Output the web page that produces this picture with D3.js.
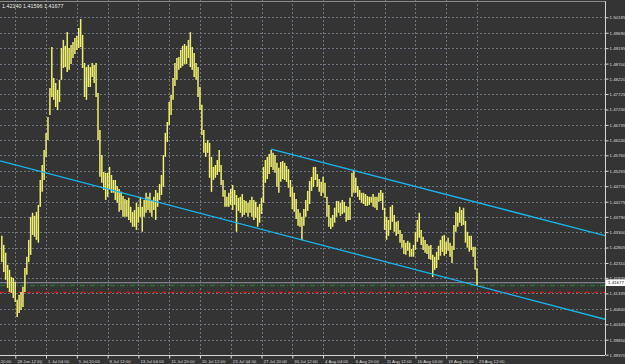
<!DOCTYPE html>
<html>
<head>
<meta charset="utf-8">
<script src="https://cdn.jsdelivr.net/npm/d3@7"></script>
<style>
  html, body { margin: 0; padding: 0; background: #343434; overflow: hidden; }
  svg { display: block; }
  text { font-family: "Liberation Sans", Arial, sans-serif; }
</style>
</head>
<body>
<div id="chart"></div>
<script>
const highs = [
  1.4318, 1.4289, 1.4264, 1.4225, 1.4209, 1.4186, 1.4183, 1.4170, 1.4113, 1.4129,
  1.4138, 1.4155, 1.4215, 1.4251, 1.4305, 1.4379, 1.4392, 1.4382, 1.4395, 1.4417,
  1.4497, 1.4545, 1.4593, 1.4648, 1.4699, 1.4792, 1.4923, 1.4824, 1.4808, 1.4786,
  1.4818, 1.4920, 1.4946, 1.4927, 1.4971, 1.4920, 1.4930, 1.4939, 1.4952, 1.4959,
  1.4984, 1.5013, 1.4962, 1.4872, 1.4859, 1.4866, 1.4859, 1.4872, 1.4866, 1.4872,
  1.4776, 1.4657, 1.4577, 1.4523, 1.4520, 1.4520, 1.4539, 1.4513, 1.4497, 1.4497,
  1.4478, 1.4468, 1.4459, 1.4446, 1.4436, 1.4433, 1.4440, 1.4411, 1.4395, 1.4401,
  1.4424, 1.4411, 1.4443, 1.4411, 1.4433, 1.4456, 1.4443, 1.4456, 1.4433, 1.4443,
  1.4465, 1.4456, 1.4484, 1.4513, 1.4577, 1.4648, 1.4683, 1.4747, 1.4770, 1.4824,
  1.4872, 1.4888, 1.4891, 1.4914, 1.4927, 1.4933, 1.4927, 1.4946, 1.4971, 1.4923,
  1.4904, 1.4872, 1.4859, 1.4795, 1.4738, 1.4657, 1.4616, 1.4625, 1.4616, 1.4571,
  1.4539, 1.4545, 1.4561, 1.4593, 1.4545, 1.4497, 1.4465, 1.4443, 1.4456, 1.4468,
  1.4481, 1.4465, 1.4449, 1.4440, 1.4443, 1.4452, 1.4433, 1.4430, 1.4424, 1.4433,
  1.4443, 1.4433, 1.4427, 1.4411, 1.4420, 1.4440, 1.4539, 1.4561, 1.4571, 1.4580,
  1.4593, 1.4584, 1.4577, 1.4552, 1.4536, 1.4555, 1.4558, 1.4552, 1.4542, 1.4532,
  1.4497, 1.4475, 1.4456, 1.4436, 1.4404, 1.4392, 1.4379, 1.4404, 1.4433, 1.4462,
  1.4494, 1.4507, 1.4539, 1.4539, 1.4516, 1.4500, 1.4491, 1.4507, 1.4488, 1.4443,
  1.4417, 1.4376, 1.4385, 1.4408, 1.4430, 1.4430, 1.4424, 1.4433, 1.4427, 1.4414,
  1.4411, 1.4440, 1.4520, 1.4526, 1.4504, 1.4478, 1.4465, 1.4456, 1.4456, 1.4452,
  1.4446, 1.4443, 1.4443, 1.4452, 1.4443, 1.4443, 1.4456, 1.4465, 1.4456, 1.4408,
  1.4379, 1.4369, 1.4411, 1.4417, 1.4385, 1.4363, 1.4366, 1.4337, 1.4324, 1.4305,
  1.4296, 1.4302, 1.4296, 1.4276, 1.4289, 1.4331, 1.4369, 1.4392, 1.4337, 1.4315,
  1.4305, 1.4292, 1.4286, 1.4289, 1.4257, 1.4251, 1.4267, 1.4286, 1.4305, 1.4318,
  1.4321, 1.4299, 1.4312, 1.4296, 1.4286, 1.4353, 1.4395, 1.4392, 1.4411, 1.4401,
  1.4408, 1.4366, 1.4331, 1.4318, 1.4318, 1.4283, 1.4283, 1.42140
];
const lows = [
  1.4234, 1.4202, 1.4177, 1.4151, 1.4138, 1.4135, 1.4119, 1.4106, 1.4058, 1.4071,
  1.4080, 1.4090, 1.4138, 1.4193, 1.4234, 1.4257, 1.4321, 1.4315, 1.4305, 1.4296,
  1.4411, 1.4459, 1.4497, 1.4571, 1.4625, 1.4705, 1.4763, 1.4754, 1.4731, 1.4721,
  1.4747, 1.4818, 1.4856, 1.4859, 1.4843, 1.4850, 1.4869, 1.4888, 1.4901, 1.4914,
  1.4920, 1.4923, 1.4856, 1.4763, 1.4754, 1.4795, 1.4795, 1.4827, 1.4808, 1.4763,
  1.4625, 1.4507, 1.4488, 1.4465, 1.4433, 1.4443, 1.4465, 1.4456, 1.4456, 1.4433,
  1.4424, 1.4395, 1.4401, 1.4379, 1.4379, 1.4379, 1.4369, 1.4360, 1.4347, 1.4347,
  1.4337, 1.4360, 1.4379, 1.4331, 1.4379, 1.4392, 1.4401, 1.4392, 1.4379, 1.4401,
  1.4369, 1.4411, 1.4433, 1.4449, 1.4475, 1.4571, 1.4619, 1.4673, 1.4705, 1.4754,
  1.4798, 1.4818, 1.4850, 1.4856, 1.4862, 1.4869, 1.4869, 1.4888, 1.4859, 1.4850,
  1.4827, 1.4818, 1.4763, 1.4721, 1.4641, 1.4584, 1.4571, 1.4584, 1.4504, 1.4459,
  1.4497, 1.4504, 1.4513, 1.4523, 1.4481, 1.4443, 1.4411, 1.4411, 1.4411, 1.4417,
  1.4401, 1.4417, 1.4331, 1.4398, 1.4392, 1.4379, 1.4385, 1.4392, 1.4379, 1.4392,
  1.4379, 1.4369, 1.4376, 1.4347, 1.4360, 1.4388, 1.4424, 1.4488, 1.4500, 1.4516,
  1.4539, 1.4529, 1.4520, 1.4475, 1.4456, 1.4491, 1.4500, 1.4497, 1.4491, 1.4472,
  1.4443, 1.4404, 1.4395, 1.4372, 1.4350, 1.4347, 1.4305, 1.4350, 1.4379, 1.4398,
  1.4420, 1.4462, 1.4475, 1.4497, 1.4475, 1.4459, 1.4446, 1.4456, 1.4440, 1.4379,
  1.4347, 1.4340, 1.4347, 1.4360, 1.4379, 1.4392, 1.4382, 1.4388, 1.4392, 1.4363,
  1.4369, 1.4369, 1.4443, 1.4456, 1.4456, 1.4443, 1.4433, 1.4424, 1.4420, 1.4414,
  1.4414, 1.4417, 1.4424, 1.4411, 1.4408, 1.4401, 1.4427, 1.4430, 1.4401, 1.4337,
  1.4305, 1.4318, 1.4337, 1.4363, 1.4331, 1.4318, 1.4324, 1.4296, 1.4280, 1.4260,
  1.4257, 1.4270, 1.4251, 1.4251, 1.4251, 1.4273, 1.4299, 1.4312, 1.4289, 1.4273,
  1.4264, 1.4260, 1.4244, 1.4241, 1.4186, 1.4209, 1.4215, 1.4241, 1.4254, 1.4267,
  1.4254, 1.4260, 1.4270, 1.4251, 1.4231, 1.4273, 1.4331, 1.4347, 1.4360, 1.4350,
  1.4353, 1.4296, 1.4280, 1.4267, 1.4273, 1.4251, 1.4209, 1.41596
];

const priceTicks = [
  1.50185, 1.49690, 1.49195, 1.48700, 1.48220, 1.47725, 1.47230, 1.46735,
  1.46240, 1.45760, 1.45265, 1.44770, 1.44275, 1.43790, 1.43300, 1.42805,
  1.42310, 1.41835, 1.41335, 1.40840, 1.40345, 1.39850, 1.39370
];
const timeLabels = [
  "23 Jun 20:00", "28 Jun 12:00", "1 Jul 04:00", "5 Jul 20:00", "8 Jul 12:00",
  "13 Jul 04:00", "15 Jul 20:00", "20 Jul 12:00", "23 Jul 04:00", "27 Jul 20:00",
  "30 Jul 12:00", "4 Aug 04:00", "6 Aug 20:00", "11 Aug 12:00", "16 Aug 04:00",
  "18 Aug 20:00", "23 Aug 12:00"
];
const labelStep = 16;
const headerText = "1.42140 1.41596 1.41677";
const bidPrice = 1.41677;
const greenLevel = 1.4159;
const redLevel = 1.4137;
const lowerChannel = [[0, 1.4557], [247, 1.4158]];
const upperChannel = [[140, 1.4596], [247, 1.4425]];

const width = 625, height = 364;
const plotRight = 605, plotBottom = 355;

const xScale = d3.scaleLinear()
  .domain([0, highs.length - 1])
  .range([1.8, 477]);

const yScale = d3.scaleLinear()
  .domain([priceTicks[priceTicks.length - 1], priceTicks[0]])
  .range([354.7, 17.3]);

const timeIdx = timeLabels.map((d, k) => highs.length - 1 - labelStep * (timeLabels.length - 1 - k));

const svg = d3.select("#chart")
  .append("svg")
  .attr("width", width)
  .attr("height", height);

svg.append("rect")
  .attr("width", width)
  .attr("height", height)
  .attr("fill", "#343434");

svg.append("defs").append("clipPath")
  .attr("id", "plot")
  .append("rect")
  .attr("x", 0).attr("y", 0)
  .attr("width", plotRight).attr("height", plotBottom);

const plot = svg.append("g").attr("clip-path", "url(#plot)");

// grid
plot.selectAll(".hgrid")
  .data(priceTicks)
  .join("line")
  .attr("class", "hgrid")
  .attr("x1", 0).attr("x2", plotRight)
  .attr("y1", d => Math.round(yScale(d)) + 0.5)
  .attr("y2", d => Math.round(yScale(d)) + 0.5)
  .attr("stroke", "#6c747e")
  .attr("stroke-dasharray", "2,2");

plot.selectAll(".vgrid")
  .data(timeIdx)
  .join("line")
  .attr("class", "vgrid")
  .attr("x1", d => Math.round(xScale(d)) + 0.5)
  .attr("x2", d => Math.round(xScale(d)) + 0.5)
  .attr("y1", 0).attr("y2", plotBottom)
  .attr("stroke", "#6c747e")
  .attr("stroke-dasharray", "2,2");

// price levels
plot.append("line")
  .attr("x1", 0).attr("x2", plotRight)
  .attr("y1", yScale(bidPrice)).attr("y2", yScale(bidPrice))
  .attr("stroke", "#8e98a3").attr("stroke-width", 1);

plot.append("line")
  .attr("x1", 0).attr("x2", plotRight)
  .attr("y1", yScale(greenLevel)).attr("y2", yScale(greenLevel))
  .attr("stroke", "#2f7030").attr("stroke-width", 1.4)
  .attr("stroke-dasharray", "5,2,1,2");

plot.append("line")
  .attr("x1", 0).attr("x2", plotRight)
  .attr("y1", yScale(redLevel)).attr("y2", yScale(redLevel))
  .attr("stroke", "#d81818").attr("stroke-width", 1.2)
  .attr("stroke-dasharray", "4,2,1,2");

// bars
plot.selectAll(".bar")
  .data(highs)
  .join("line")
  .attr("class", "bar")
  .attr("x1", (d, i) => xScale(i))
  .attr("x2", (d, i) => xScale(i))
  .attr("y1", d => yScale(d))
  .attr("y2", (d, i) => yScale(lows[i]))
  .attr("stroke", "#f0f070")
  .attr("stroke-width", 1.5);

// channel lines
function channelPath(pts, fromStart) {
  const slope = (pts[1][1] - pts[0][1]) / (pts[1][0] - pts[0][0]);
  const i0 = fromStart ? pts[0][0] : xScale.invert(0);
  const i1 = xScale.invert(plotRight);
  return [[i0, pts[0][1] + slope * (i0 - pts[0][0])], [i1, pts[0][1] + slope * (i1 - pts[0][0])]];
}

const lineGen = d3.line().x(d => xScale(d[0])).y(d => yScale(d[1]));

plot.append("path")
  .attr("d", lineGen(channelPath(lowerChannel, false)))
  .attr("fill", "none")
  .attr("stroke", "#18b6ee")
  .attr("stroke-width", 1.3);

plot.append("path")
  .attr("d", lineGen(channelPath(upperChannel, true)))
  .attr("fill", "none")
  .attr("stroke", "#18b6ee")
  .attr("stroke-width", 1.3);

// frame
svg.append("line")
  .attr("x1", 0).attr("x2", plotRight)
  .attr("y1", 1.5).attr("y2", 1.5)
  .attr("stroke", "#8a8a8a");

svg.append("line")
  .attr("x1", plotRight + 0.5).attr("x2", plotRight + 0.5)
  .attr("y1", 1).attr("y2", plotBottom)
  .attr("stroke", "#d6d6d6");

svg.append("line")
  .attr("x1", 0).attr("x2", plotRight)
  .attr("y1", plotBottom + 0.5).attr("y2", plotBottom + 0.5)
  .attr("stroke", "#d6d6d6");

// axes
const yAxis = d3.axisRight(yScale)
  .tickValues(priceTicks)
  .tickFormat(d3.format(".5f"))
  .tickSize(3)
  .tickPadding(1);

const gy = svg.append("g")
  .attr("class", "axis")
  .attr("transform", "translate(" + (plotRight + 0.5) + ",0)")
  .call(yAxis);
gy.select(".domain").remove();
gy.selectAll("line").attr("stroke", "#d6d6d6");
gy.selectAll("text")
  .attr("fill", "#dcdcdc")
  .style("font-size", "4.4px");

const xAxis = d3.axisBottom(xScale)
  .tickValues(timeIdx)
  .tickFormat((d, k) => timeLabels[k])
  .tickSize(3)
  .tickPadding(1);

const gx = svg.append("g")
  .attr("class", "axis")
  .attr("transform", "translate(0," + (plotBottom + 0.5) + ")")
  .call(xAxis);
gx.select(".domain").remove();
gx.selectAll("line").attr("stroke", "#d6d6d6");
gx.selectAll("text")
  .attr("fill", "#dcdcdc")
  .attr("text-anchor", "start")
  .attr("dx", "1.5")
  .style("font-size", "4.3px");

// bid label
const bidY = yScale(bidPrice);
svg.append("rect")
  .attr("x", plotRight + 1)
  .attr("y", bidY - 3.3)
  .attr("width", 20)
  .attr("height", 6.6)
  .attr("fill", "#ffffff");

svg.append("text")
  .attr("x", plotRight + 3)
  .attr("y", bidY + 1.6)
  .attr("fill", "#111111")
  .style("font-size", "4.4px")
  .text(d3.format(".5f")(bidPrice));

// header
svg.append("text")
  .attr("x", 2)
  .attr("y", 7.6)
  .attr("fill", "#e8e8e8")
  .style("font-size", "5.4px")
  .text(headerText);
</script>
</body>
</html>
